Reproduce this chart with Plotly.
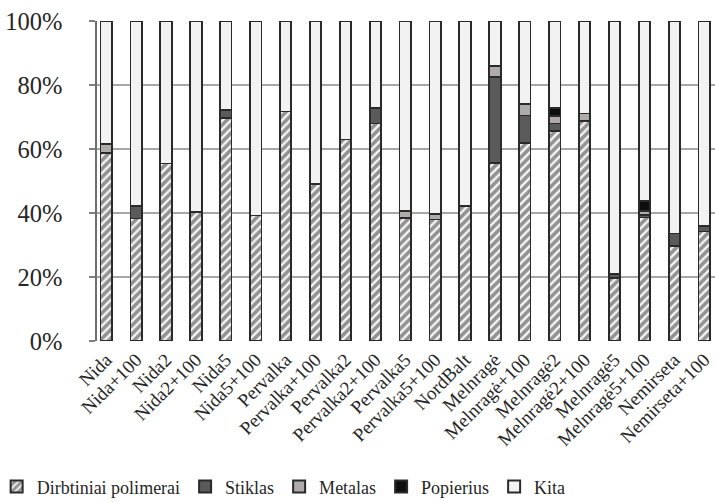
import plotly.graph_objects as go

categories = ["Nida", "Nida+100", "Nida2", "Nida2+100", "Nida5", "Nida5+100",
              "Pervalka", "Pervalka+100", "Pervalka2", "Pervalka2+100",
              "Pervalka5", "Pervalka5+100", "NordBalt", "Melnragė", "Melnragė+100",
              "Melnragė2", "Melnragė2+100", "Melnragė5", "Melnragė5+100",
              "Nemirseta", "Nemirseta+100"]

polimerai = [58.8, 38.3, 55.5, 40.4, 69.6, 39.2, 71.7, 49.1, 63.0, 68.0, 38.5,
             38.0, 42.3, 55.7, 61.8, 65.7, 68.8, 19.8, 38.6, 29.8, 34.2]
stiklas = [0, 3.9, 0, 0, 2.6, 0, 0, 0, 0, 4.7, 0,
           0, 0, 26.7, 8.7, 2.3, 0, 1.1, 0.8, 3.8, 1.8]
metalas = [2.8, 0, 0, 0, 0, 0, 0, 0, 0, 0, 2.2,
           1.8, 0, 3.5, 3.6, 2.3, 2.3, 0, 1.3, 0, 0]
popierius = [0, 0, 0, 0, 0, 0, 0, 0, 0, 0, 0,
             0, 0, 0, 0, 2.4, 0, 0, 3.1, 0, 0]
kita = [round(100 - a - b - c - d, 1) for a, b, c, d in zip(polimerai, stiklas, metalas, popierius)]

series_names = ["Dirbtiniai polimerai", "Stiklas", "Metalas", "Popierius", "Kita"]

FONT = "Liberation Serif"
OUT = "#2a2a2a"
x_idx = list(range(len(categories)))

fig = go.Figure()

def add(name, vals, color, pattern=None):
    marker = dict(color=color, line=dict(color=OUT, width=1.8))
    if pattern:
        marker["pattern"] = pattern
    fig.add_trace(go.Bar(
        x=x_idx, y=[v / 100 for v in vals], name=name, width=0.38,
        marker=marker,
    ))

add(series_names[0], polimerai, "#f7f7f7",
    dict(shape="/", fgcolor="#2e2e2e", bgcolor="#f7f7f7", size=6, solidity=0.62))
add(series_names[1], stiklas, "#5a5a5a")
add(series_names[2], metalas, "#afabab")
add(series_names[3], popierius, "#0e0e0e")
add(series_names[4], kita, "#f2f2f2")

fig.update_layout(
    barmode="stack",
    width=715, height=502,
    margin=dict(l=97, r=0, t=21, b=161, autoexpand=False),
    paper_bgcolor="white", plot_bgcolor="white",
    font=dict(family=FONT, color="#262626"),
    showlegend=True,
    legend=dict(orientation="h", traceorder="normal",
                x=0.302, xanchor="center", y=-0.456, yanchor="middle",
                font=dict(size=18, family=FONT), itemsizing="constant"),
    xaxis=dict(
        range=[-0.31, 20.36], automargin=False,
        tickmode="array", tickvals=x_idx, ticktext=categories,
        tickangle=-45, tickfont=dict(size=19, family=FONT),
        showgrid=False, zeroline=False, showline=False, ticks="",
        ticklabelstandoff=3,
    ),
    yaxis=dict(
        range=[0, 1], dtick=0.2, tickformat=".0%", automargin=False,
        tickfont=dict(size=24.5, family=FONT),
        showgrid=True, gridcolor="#a6a6a6", gridwidth=1.5,
        zeroline=False, showline=True, linecolor="#6f6f6f", linewidth=1.5,
        ticks="outside", ticklen=6, tickcolor="#7f7f7f", tickwidth=1.5,
        ticklabelstandoff=22,
    ),
)

fig.write_html("out.html", config={"displayModeBar": False},
               post_script="document.body.style.margin='0';document.body.style.overflow='hidden';")
